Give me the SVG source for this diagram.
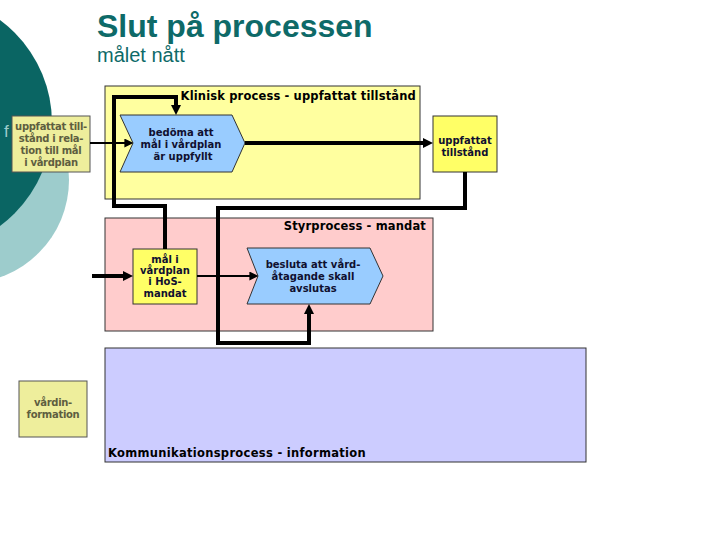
<svg xmlns="http://www.w3.org/2000/svg" width="720" height="540" viewBox="0 0 720 540">
<defs>
<style>
.title{font-family:"Liberation Sans",Arial,sans-serif;fill:#0e6a68}
.lbl{font-family:"DejaVu Sans",Verdana,sans-serif;font-weight:bold;font-size:11.5px;fill:#000}
.nt{font-family:"DejaVu Sans",Verdana,sans-serif;font-weight:bold;font-size:10px;fill:#101030;text-anchor:middle}
.ot{font-family:"DejaVu Sans",Verdana,sans-serif;font-weight:bold;font-size:10px;fill:#5e5e40;text-anchor:middle;letter-spacing:-0.3px}
.proc{stroke:#333;stroke-width:1}
.ext{fill:#eeee9c;stroke:#555;stroke-width:1}
.doc{fill:#ffff66;stroke:#333;stroke-width:1}
.chev{fill:#99ccff;stroke:#333;stroke-width:1}
.thick{fill:none;stroke:#000;stroke-width:4;stroke-linejoin:miter}
.thin{fill:none;stroke:#000;stroke-width:2}
</style>
<marker id="ah" viewBox="0 0 10 10" refX="4" refY="5" markerWidth="10" markerHeight="10" markerUnits="userSpaceOnUse" orient="auto">
<path d="M0,0 L10,5 L0,10 z" fill="#000"/>
</marker>
<marker id="ahs" viewBox="0 0 10 10" refX="4" refY="5" markerWidth="9" markerHeight="9" markerUnits="userSpaceOnUse" orient="auto">
<path d="M0,0 L10,5 L0,10 z" fill="#000"/>
</marker>
</defs>
<rect width="720" height="540" fill="#fff"/>
<g id="background">
<circle cx="-34" cy="180" r="103" fill="#9dcccc"/>
<circle cx="-76" cy="123" r="128" fill="#0a6563"/>
<text x="4" y="137" font-family="Liberation Sans, Arial, sans-serif" font-size="17" fill="#9dcccc">f</text>
</g>
<g id="title">
<text class="title" x="97" y="37" font-size="32" font-weight="bold">Slut på processen</text>
<text class="title" x="97" y="62" font-size="20">målet nått</text>
</g>
<g id="klinisk">
<rect class="proc" x="105" y="86" width="315" height="113" fill="#ffff9f"/>
<text class="lbl" x="416" y="100" text-anchor="end" letter-spacing="0.15">Klinisk process - uppfattat tillstånd</text>
</g>
<g id="styr">
<rect class="proc" x="105" y="218" width="328" height="113" fill="#ffcccc"/>
<text class="lbl" x="426" y="230" text-anchor="end" letter-spacing="0.15">Styrprocess - mandat</text>
</g>
<g id="kommunikation">
<rect class="proc" x="105" y="348" width="481" height="114" fill="#ccccff"/>
<text class="lbl" x="108" y="457" letter-spacing="0.3">Kommunikationsprocess - information</text>
</g>
<g id="uppfattat-relation">
<rect class="ext" x="12" y="116" width="78" height="56"/>
<text class="ot" x="51" y="130">uppfattat till-</text>
<text class="ot" x="51" y="142">stånd i rela-</text>
<text class="ot" x="51" y="154">tion till mål</text>
<text class="ot" x="51" y="166">i vårdplan</text>
</g>
<g id="bedoma">
<path class="chev" d="M120,115 H232 L245,143 L232,172 H120 L133,143 Z"/>
<text class="nt" x="181" y="136">bedöma att</text>
<text class="nt" x="181" y="148">mål i vårdplan</text>
<text class="nt" x="183" y="160">är uppfyllt</text>
</g>
<g id="uppfattat-tillstand">
<rect class="doc" x="433" y="116" width="64" height="56"/>
<text class="nt" x="465" y="144">uppfattat</text>
<text class="nt" x="465" y="156">tillstånd</text>
</g>
<g id="mal-hos">
<rect class="doc" x="133" y="249" width="64" height="55"/>
<text class="nt" x="165" y="263">mål i</text>
<text class="nt" x="165" y="274">vårdplan</text>
<text class="nt" x="165" y="285">i HoS-</text>
<text class="nt" x="165" y="297">mandat</text>
</g>
<g id="besluta">
<path class="chev" d="M247,248 H370 L383,276 L370,304 H247 L258,276 Z"/>
<text class="nt" x="313" y="268">besluta att vård-</text>
<text class="nt" x="313" y="280">åtagande skall</text>
<text class="nt" x="313" y="292">avslutas</text>
</g>
<g id="vardinformation">
<rect class="ext" x="19" y="381" width="68" height="56"/>
<text class="ot" x="53" y="406">vårdin-</text>
<text class="ot" x="53" y="418">formation</text>
</g>
<g id="connectors">
<path class="thick" d="M165,249 V206 H114 V97 H176 V109" marker-end="url(#ah)"/>
<path class="thick" d="M465,172 V208 H218 V343 H309 V310" marker-end="url(#ah)"/>
<path class="thick" d="M245,143 H427" marker-end="url(#ah)"/>
<path class="thin" d="M90,143 H128" marker-end="url(#ahs)"/>
<path class="thick" d="M92,276 H127" marker-end="url(#ah)"/>
<path class="thin" d="M197,276 H253" marker-end="url(#ahs)"/>
</g>
</svg>
